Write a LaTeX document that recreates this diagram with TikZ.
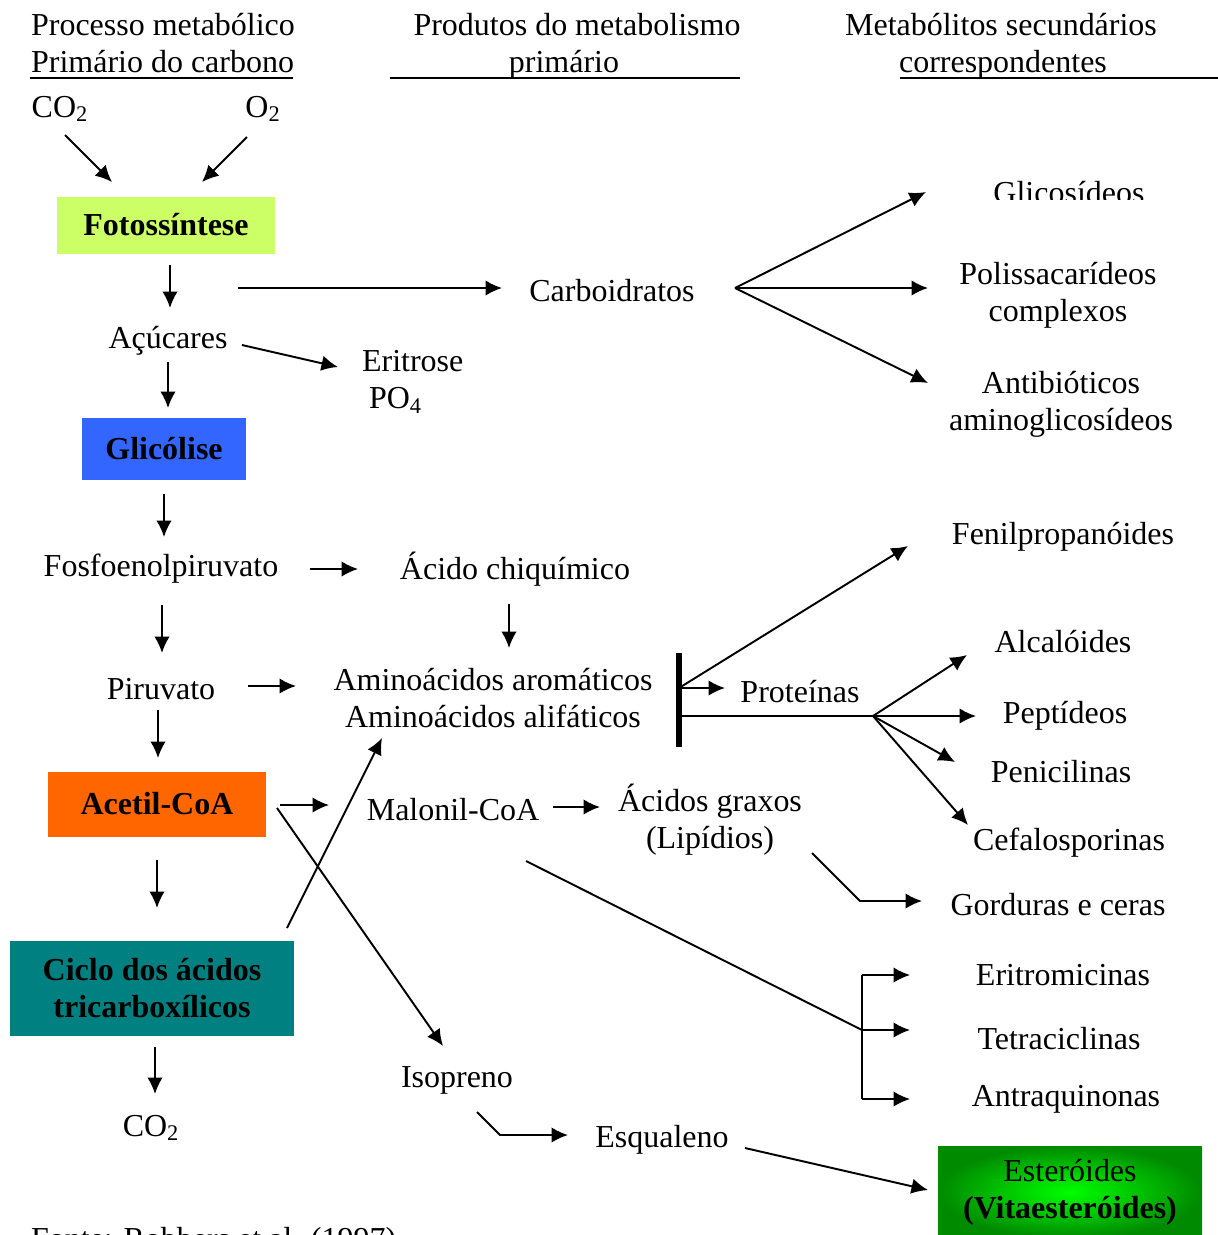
\documentclass[tikz,border=0pt]{standalone}
\usepackage{fontspec}
\setmainfont{Liberation Serif}
\usetikzlibrary{arrows.meta}
\definecolor{fotogreen}{HTML}{CCFF66}
\definecolor{glicblue}{HTML}{3366FF}
\definecolor{acetorange}{HTML}{FF6600}
\definecolor{cicloteal}{HTML}{008080}
\definecolor{estlight}{HTML}{00FF00}
\definecolor{estdark}{HTML}{008A00}

\begin{document}
\begin{tikzpicture}[
  x=0.2mm, y=-0.2mm,
  every node/.style={font=\fontsize{18.2pt}{21pt}\selectfont, inner sep=1pt},
  flow/.style={line width=1.1pt, -{Latex[length=3.3mm, width=3.1mm]}},
  link/.style={line width=1.1pt},
  box/.style={font=\fontsize{18.2pt}{21pt}\selectfont\bfseries, align=center, inner sep=0pt},
]
  \useasboundingbox (0,0) rectangle (1218,1235);

  % headers
  \node (proc a) [anchor=base west] at (29,35) {Processo metabólico};
  \node (proc b) [anchor=base west] at (29,72) {Primário do carbono};
  \node (prod a) [anchor=base] at (577,35) {Produtos do metabolismo};
  \node (prod b) [anchor=base] at (564,72) {primário};
  \node (meta a) [anchor=base] at (1001,35) {Metabólitos secundários};
  \node (meta b) [anchor=base] at (1003,72) {correspondentes};
  \draw [link] (proc b.base west) ++(1,6) -- ++(263,0);
  \draw [link] (prod b.base) ++(-174,6) -- ++(350,0);
  \draw [link] (meta b.base) ++(-103,6) -- ++(318,0);

  % primary carbon metabolism
  \node (co2 top) at (60,109) {CO\textsubscript{2}};
  \node (o2) at (263,109) {O\textsubscript{2}};
  \node (fotossintese) [box, fill=fotogreen, minimum width=43.4mm, minimum height=11.4mm]
    at (166,225) {Fotossíntese};
  \node (acucares) at (168,341) {Açúcares};
  \node (eritrose) [align=left, anchor=west] at (360,382) {Eritrose\\\hspace{1.4mm}PO\textsubscript{4}};
  \node (glicolise) [box, fill=glicblue, minimum width=32.8mm, minimum height=12.4mm]
    at (164,449) {Glicólise};
  \node (fosfo) at (161,569) {Fosfoenolpiruvato};
  \node (piruvato) at (161,689) {Piruvato};
  \node (acetil) [box, fill=acetorange, minimum width=43.4mm, minimum height=13mm]
    at (157,804) {Acetil-CoA};
  \node (ciclo) [box, fill=cicloteal, minimum width=56.8mm, minimum height=19mm]
    at (152,988) {Ciclo dos ácidos\\tricarboxílicos};
  \node (co2 bottom) at (151,1128) {CO\textsubscript{2}};

  % primary products
  \node (carboidratos) at (612,291) {Carboidratos};
  \node (chiquimico) at (515,569) {Ácido chiquímico};
  \node (aminoacidos) [align=center] at (493,698) {Aminoácidos aromáticos\\Aminoácidos alifáticos};
  \node (proteinas) at (800,692) {Proteínas};
  \node (malonil) at (453,810) {Malonil-CoA};
  \node (graxos) [align=center] at (710,820) {Ácidos graxos\\(Lipídios)};
  \node (isopreno) at (457,1080) {Isopreno};
  \node (esqualeno) at (662,1140) {Esqualeno};

  % secondary metabolites
  \begin{scope}
    \clip (900,150) rectangle (1218,199);
    \node (glicosideos) at (1069,193) {Glicosídeos};
  \end{scope}
  \node (polissacarideos) [align=center] at (1058,295) {Polissacarídeos\\complexos};
  \node (antibioticos) [align=center] at (1061,404) {Antibióticos\\aminoglicosídeos};
  \node (fenil) at (1063,537) {Fenilpropanóides};
  \node (alcaloides) at (1063,642) {Alcalóides};
  \node (peptideos) at (1065,716) {Peptídeos};
  \node (penicilinas) at (1061,772) {Penicilinas};
  \node (cefalo) at (1069,843) {Cefalosporinas};
  \node (gorduras) at (1058,905) {Gorduras e ceras};
  \node (eritromicinas) at (1063,975) {Eritromicinas};
  \node (tetraciclinas) at (1059,1039) {Tetraciclinas};
  \node (antraquinonas) at (1066,1099) {Antraquinonas};
  \node (esteroides) [align=center, inner sep=0pt, minimum width=52.8mm, minimum height=18.4mm,
    shading=radial, inner color=estlight, outer color=estdark]
    at (1070,1192) {Esteróides\\\textbf{(Vitaesteróides)}};

  \node (fonte) [anchor=base west] at (29,1249) {Fonte: Robbers et al. (1997)};

  % junctions
  \coordinate (carb fan) at (735,288);
  \coordinate (hub top) at (679,688);
  \coordinate (hub low) at (679,716);
  \coordinate (prot fan) at (873,716);
  \coordinate (poli split) at (862,1030);

  % left column
  \draw [flow] ([shift={(5,26)}]co2 top.center) -- ([shift={(-54,-43)}]fotossintese.center);
  \draw [flow] ([shift={(-16,28)}]o2.center) -- ([shift={(36,-43)}]fotossintese.center);
  \draw [flow] ([shift={(4,40)}]fotossintese.center) -- ([shift={(2,-33)}]acucares.center);
  \draw [flow] ([shift={(72,63)}]fotossintese.center) -- ([shift={(-110,-3)}]carboidratos.center);
  \draw [flow] ([shift={(74,4)}]acucares.center) -- ([shift={(-22,-15)}]eritrose.west);
  \draw [flow] ([shift={(0,21)}]acucares.center) -- ([shift={(4,-41)}]glicolise.center);
  \draw [flow] ([shift={(0,45)}]glicolise.center) -- ([shift={(3,-32)}]fosfo.center);
  \draw [flow] ([shift={(149,0)}]fosfo.center) -- ([shift={(-157,0)}]chiquimico.center);
  \draw [flow] ([shift={(-6,35)}]chiquimico.center) -- ([shift={(16,-50)}]aminoacidos.center);
  \draw [flow] ([shift={(1,36)}]fosfo.center) -- ([shift={(1,-36)}]piruvato.center);
  \draw [flow] ([shift={(87,-3)}]piruvato.center) -- ([shift={(-197,-12)}]aminoacidos.center);
  \draw [flow] ([shift={(-3,21)}]piruvato.center) -- ([shift={(1,-46)}]acetil.center);
  \draw [flow] ([shift={(123,1)}]acetil.center) -- ([shift={(-124,-5)}]malonil.center);
  \draw [flow] ([shift={(0,56)}]acetil.center) -- ([shift={(5,-80)}]ciclo.center);
  \draw [flow] ([shift={(3,59)}]ciclo.center) -- ([shift={(4,-34)}]co2 bottom.center);
  \draw [flow] ([shift={(135,-60)}]ciclo.center) -- ([shift={(-111,40)}]aminoacidos.center);
  \draw [flow] ([shift={(120,4)}]acetil.center) -- ([shift={(-14,-34)}]isopreno.center);

  % carboidratos fan
  \draw [flow] (carb fan) -- ([shift={(-143,-1)}]glicosideos.center);
  \draw [flow] (carb fan) -- ([shift={(-130,-7)}]polissacarideos.center);
  \draw [flow] (carb fan) -- ([shift={(-133,-21)}]antibioticos.center);

  % aminoacid bar and protein fan
  \draw [line width=3pt] (hub top) ++(0,-35) -- ++(0,94);
  \draw [flow] (hub top) -- ([shift={(-155,9)}]fenil.center);
  \draw [flow] (hub top) -- ([shift={(-75,-4)}]proteinas.center);
  \draw [link] (hub low) -- (prot fan);
  \draw [flow] (prot fan) -- ([shift={(-96,13)}]alcaloides.center);
  \draw [flow] (prot fan) -- ([shift={(-89,0)}]peptideos.center);
  \draw [flow] (prot fan) -- ([shift={(-106,-10)}]penicilinas.center);
  \draw [flow] (prot fan) -- ([shift={(-101,-18)}]cefalo.center);

  % lipids and polyketides
  \draw [flow] ([shift={(100,-3)}]malonil.center) -- ([shift={(-110,-13)}]graxos.center);
  \draw [flow] ([shift={(102,33)}]graxos.center) -- ++(48,48) -- ([shift={(-136,-4)}]gorduras.center);
  \draw [link] ([shift={(73,51)}]malonil.center) -- (poli split);
  \draw [link] (poli split |- eritromicinas) -- (poli split |- antraquinonas);
  \draw [flow] (poli split |- eritromicinas) -- ++(48,0);
  \draw [flow] (poli split) -- ++(48,0);
  \draw [flow] (poli split |- antraquinonas) -- ++(48,0);

  % terpenes
  \draw [flow] ([shift={(20,32)}]isopreno.center) -- ++(23,23) -- ([shift={(-94,-5)}]esqualeno.center);
  \draw [flow] ([shift={(83,8)}]esqualeno.center) -- ([shift={(-142,-2)}]esteroides.center);
\end{tikzpicture}
\end{document}
